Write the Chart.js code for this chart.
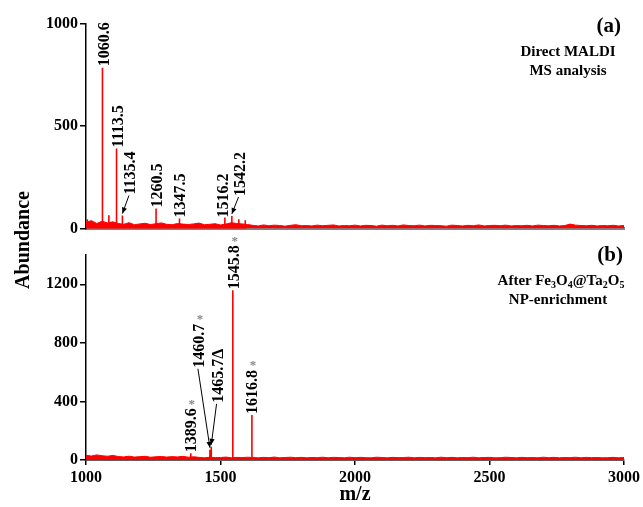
<!DOCTYPE html>
<html>
<head>
<meta charset="utf-8">
<script src="https://cdn.jsdelivr.net/npm/chart.js@4.4.1/dist/chart.umd.min.js"></script>
<style>
  body { margin: 0; background: #fff; }
  #wrap { position: relative; width: 643px; height: 507px; overflow: hidden;
          font-family: 'Liberation Serif', 'DejaVu Serif', serif; font-weight: bold; color: #000; }
  #wrap canvas { position: absolute; left: 0; }
  .note { position: absolute; text-align: center; white-space: nowrap; line-height: 1; }
  .note sub { font-size: 10px; vertical-align: -3px; }
</style>
</head>
<body>
<div id="wrap">
  <canvas id="chartA" width="643" height="240" style="top:0"></canvas>
  <canvas id="chartB" width="643" height="279" style="top:228px"></canvas>

  <div class="note" style="right:22px; top:15px; font-size:21px;">(a)</div>
  <div class="note" style="left:498px; width:140px; top:44px; font-size:15px;">Direct MALDI</div>
  <div class="note" style="left:498px; width:140px; top:63px; font-size:15px;">MS analysis</div>

  <div class="note" style="right:20px; top:244px; font-size:21px;">(b)</div>
  <div class="note" style="left:491px; width:140px; top:273px; font-size:15px;">After Fe<sub>3</sub>O<sub>4</sub>@Ta<sub>2</sub>O<sub>5</sub></div>
  <div class="note" style="left:488px; width:140px; top:292px; font-size:15px;">NP-enrichment</div>

  <div class="note" style="left:-28px; top:230px; width:100px; font-size:20px; transform: rotate(-90deg);">Abundance</div>
</div>

<script>
// ---- data ----
const xTicks = [1000, 1500, 2000, 2500, 3000];
const yTicksA = [0, 500, 1000];
const yTicksB = [0, 400, 800, 1200];

// panel (a): direct MALDI peaks
const peakMzA = [1005, 1060.6, 1061.6, 1085, 1113.5, 1135.4, 1260.5, 1347.5, 1516.2, 1542.2, 1568, 1592];
const peakIntA = [45, 786, 455, 64, 391, 63, 97, 48, 53, 61, 45, 40];
const labelMzA = [1060.6, 1113.5, 1135.4, 1260.5, 1347.5, 1516.2, 1542.2];

// panel (b): after enrichment
const peakMzB = [1389.6, 1460.7, 1465.7, 1545.8, 1616.8];
const peakIntB = [46, 70, 90, 1160, 307];
const labelMzB = [1389.6, 1460.7, 1465.7, 1545.8, 1616.8];
const labelMarkB = ['', '', 'Δ', '', ''];
const labelStarB = [true, true, false, true, true];

// baseline noise, one value every 20 m/z from 1000 to 3000
const noiseStart = 1000, noiseStep = 20;
const noiseA = [30, 38, 24, 35, 27, 32,
  24, 20, 28, 18, 22, 25, 19, 23, 27, 20, 18, 24, 21, 19, 22, 26, 18, 20, 23, 17, 21, 28, 24, 22, 19,
  15, 12, 17, 13, 16, 14, 11, 15, 18, 13, 14, 12, 16, 13, 15, 17, 12, 14, 13, 16,
  12, 15, 14, 11, 16, 13, 15, 12, 17, 14, 13, 16, 12, 15, 14, 13, 11, 16, 14, 12,
  15, 13, 17, 12, 14, 15, 13, 16, 12, 14, 13, 15, 12, 16, 14, 13, 15, 12, 14, 21,
  16, 14, 13, 15, 12, 14, 13, 15, 12, 14];
const noiseB = [32, 27, 35, 29, 26, 31,
  24, 21, 26, 20, 23, 25, 19, 22, 24, 20, 23, 21, 25, 19, 22,
  18, 15, 19, 16, 17, 20, 15, 18, 16, 19, 17, 15, 18, 16, 20, 15, 17, 19, 16, 18,
  15, 17, 16, 19, 15, 18, 17, 15, 19, 16, 18, 16, 15, 19, 17, 15, 18, 16, 17, 19,
  15, 18, 16, 17, 15, 19, 16, 18, 15, 17, 16, 19, 15, 17, 18, 15, 16, 19, 17, 15,
  18, 16, 17, 15, 19, 16, 18, 15, 17, 16, 19, 15, 18, 16, 17, 15, 16, 18, 15, 17];

// label placement (pixels relative to the peak top)
const placeA = {
  1060.6: { dx: 1.5, dy: 1.5 },
  1113.5: { dx: 1.5, dy: 1 },
  1135.4: { dx: 7.5, dy: 21, arrow: true },
  1260.5: { dx: 1, dy: 1 },
  1347.5: { dx: 0.5, dy: 1 },
  1516.2: { dx: -1.5, dy: 0 },
  1542.2: { dx: 7.7, dy: 20, arrow: true },
};
const placeB = {
  1389.6: { dx: 0, dy: 1 },
  1460.7: { dx: -11, dy: 82, arrow: true },
  1465.7: { dx: 6.3, dy: 44, arrow: true },
  1545.8: { dx: 1, dy: 1 },
  1616.8: { dx: 0, dy: 1 },
};

const RED = '#ff0000';
const FONT = "'Liberation Serif', 'DejaVu Serif', serif";

function sticks(mz, inten) {
  const pts = [];
  mz.forEach((m, i) => {
    pts.push({ x: m, y: 0 }, { x: m, y: inten[i] }, { x: m, y: 0 });
  });
  return pts;
}

function noisePoints(vals) {
  return vals.map((v, i) => ({ x: noiseStart + i * noiseStep, y: v }));
}

function arrow(ctx, x1, y1, x2, y2) {
  ctx.beginPath();
  ctx.moveTo(x1, y1);
  ctx.lineTo(x2, y2);
  ctx.stroke();
  const a = Math.atan2(y2 - y1, x2 - x1);
  const L = 6, W = 2.6;
  ctx.beginPath();
  ctx.moveTo(x2, y2);
  ctx.lineTo(x2 - L * Math.cos(a) + W * Math.sin(a), y2 - L * Math.sin(a) - W * Math.cos(a));
  ctx.lineTo(x2 - L * Math.cos(a) - W * Math.sin(a), y2 - L * Math.sin(a) + W * Math.cos(a));
  ctx.closePath();
  ctx.fill();
}

const peakLabels = {
  id: 'peakLabels',
  afterDatasetsDraw(chart, args, opts) {
    const ctx = chart.ctx;
    const xs = chart.scales.x, ys = chart.scales.y;
    ctx.save();
    opts.items.forEach(it => {
      const px = xs.getPixelForValue(it.mz);
      const py = ys.getPixelForValue(it.h);
      const cx = px + it.place.dx;
      const bottom = py - it.place.dy;
      ctx.font = 'bold 16px ' + FONT;
      ctx.fillStyle = '#000';
      const w = ctx.measureText(it.text).width;
      ctx.save();
      ctx.translate(cx, bottom);
      ctx.rotate(-Math.PI / 2);
      ctx.textAlign = 'left';
      ctx.textBaseline = 'middle';
      ctx.fillText(it.text, 0, 1);
      ctx.restore();
      if (it.star) {
        ctx.font = 'bold 13px ' + FONT;
        ctx.fillStyle = '#888';
        ctx.textAlign = 'center';
        ctx.textBaseline = 'middle';
        ctx.fillText('*', cx + 1, bottom - w - 4);
      }
      if (it.place.arrow) {
        ctx.strokeStyle = '#000';
        ctx.fillStyle = '#000';
        ctx.lineWidth = 1;
        arrow(ctx, cx - 1, bottom + 1, px, py - 2);
      }
    });
    ctx.restore();
  }
};

const tickFont = { family: FONT, size: 16, weight: 'bold' };

function yAxis(max, ticks) {
  return {
    type: 'linear', min: 0, max: max,
    afterFit: s => { s.width = 86; },
    afterBuildTicks: s => { s.ticks = ticks.map(v => ({ value: v })); },
    grid: { display: true, drawOnChartArea: false, drawTicks: true, tickLength: 6, color: '#000', lineWidth: 1.5 },
    border: { display: true, color: '#000', width: 1.5 },
    ticks: { color: '#000', font: tickFont, padding: 2, callback: v => String(v) }
  };
}

const itemsA = labelMzA.map(m => ({
  mz: m, h: peakIntA[peakMzA.indexOf(m)], text: m.toFixed(1), star: false, place: placeA[m]
}));
const itemsB = labelMzB.map((m, i) => ({
  mz: m, h: peakIntB[peakMzB.indexOf(m)], text: m.toFixed(1) + labelMarkB[i], star: labelStarB[i], place: placeB[m]
}));

function datasets(noise, mz, inten) {
  return [{
    data: sticks(mz, inten),
    borderColor: RED, borderWidth: 1.6, pointRadius: 0, fill: false, tension: 0
  }, {
    data: noisePoints(noise),
    borderColor: RED, backgroundColor: RED, borderWidth: 1, pointRadius: 0, fill: 'origin', tension: 0
  }];
}

new Chart(document.getElementById('chartA'), {
  type: 'line',
  data: { datasets: datasets(noiseA, peakMzA, peakIntA) },
  options: {
    responsive: false, animation: false,
    layout: { padding: { left: 0, right: 19, top: 24, bottom: 0 } },
    plugins: { legend: { display: false }, tooltip: { enabled: false }, peakLabels: { items: itemsA } },
    scales: {
      x: {
        type: 'linear', min: 1000, max: 3000,
        afterFit: s => { s.height = 9; },
        grid: { display: false },
        border: { display: true, color: '#808080', width: 3 },
        ticks: { display: false }
      },
      y: yAxis(1000, yTicksA)
    }
  },
  plugins: [peakLabels]
});

new Chart(document.getElementById('chartB'), {
  type: 'line',
  data: { datasets: datasets(noiseB, peakMzB, peakIntB) },
  options: {
    responsive: false, animation: false,
    layout: { padding: { left: 0, right: 19, top: 27, bottom: 0 } },
    plugins: { legend: { display: false }, tooltip: { enabled: false }, peakLabels: { items: itemsB } },
    scales: {
      x: {
        type: 'linear', min: 1000, max: 3000,
        afterFit: s => { s.height = 47; },
        afterBuildTicks: s => { s.ticks = xTicks.map(v => ({ value: v })); },
        grid: { display: true, drawOnChartArea: false, drawTicks: true, tickLength: 5, color: '#000', lineWidth: 1.5 },
        border: { display: true, color: '#606060', width: 2 },
        ticks: { color: '#000', font: tickFont, padding: 3, maxRotation: 0, callback: v => String(v) },
        title: { display: true, text: 'm/z', color: '#000', font: { family: FONT, size: 20, weight: 'bold' }, padding: 0 }
      },
      y: yAxis(1400, yTicksB)
    }
  },
  plugins: [peakLabels]
});
</script>
</body>
</html>
